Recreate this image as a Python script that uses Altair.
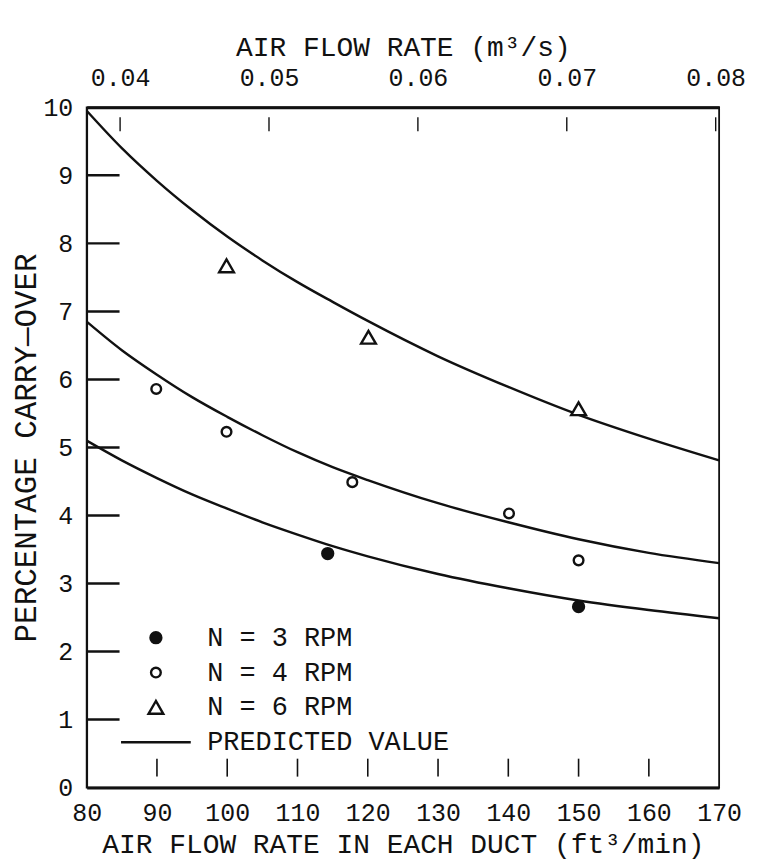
import altair as alt
import pandas as pd

FONT = "Liberation Mono"
INK = "#111111"

# ---------------- data ----------------
# measured points: air flow rate (ft^3/min) vs percentage carry-over
n3_x = [114.3, 150.0]
n3_y = [3.44, 2.66]
n4_x = [89.9, 99.9, 117.8, 140.1, 150.0]
n4_y = [5.86, 5.23, 4.49, 4.03, 3.34]
n6_x = [99.9, 120.1, 150.0]
n6_y = [7.67, 6.62, 5.57]

# predicted curves
pred_x = [80, 85, 90, 95, 100, 105, 110, 115, 120, 130, 140, 150, 160, 170]
pred_n3 = [5.10, 4.81, 4.55, 4.31, 4.10, 3.90, 3.72, 3.55, 3.40, 3.14, 2.93, 2.75, 2.61, 2.49]
pred_n4 = [6.85, 6.43, 6.07, 5.74, 5.45, 5.18, 4.93, 4.71, 4.52, 4.18, 3.90, 3.65, 3.45, 3.30]
pred_n6 = [9.95, 9.40, 8.92, 8.49, 8.10, 7.75, 7.43, 7.14, 6.86, 6.34, 5.89, 5.48, 5.13, 4.81]

series_names = ["N = 3 RPM", "N = 4 RPM", "N = 6 RPM", "PREDICTED VALUE"]

x_tick_values = [80, 90, 100, 110, 120, 130, 140, 150, 160, 170]
x_inner_ticks = [90, 100, 110, 120, 130, 140, 150, 160]
y_tick_values = [0, 1, 2, 3, 4, 5, 6, 7, 8, 9, 10]
y_inner_ticks = [1, 2, 3, 4, 5, 6, 7, 8, 9]
top_tick_labels = [0.04, 0.05, 0.06, 0.07, 0.08]
M3S_PER_CFM = 0.000471947

# ---------------- tables ----------------
pts = pd.DataFrame(
    [{"x": x, "y": y, "series": series_names[0]} for x, y in zip(n3_x, n3_y)]
    + [{"x": x, "y": y, "series": series_names[1]} for x, y in zip(n4_x, n4_y)]
    + [{"x": x, "y": y, "series": series_names[2]} for x, y in zip(n6_x, n6_y)]
)
lines = pd.DataFrame(
    [{"x": x, "y": y, "curve": "N3"} for x, y in zip(pred_x, pred_n3)]
    + [{"x": x, "y": y, "curve": "N4"} for x, y in zip(pred_x, pred_n4)]
    + [{"x": x, "y": y, "curve": "N6"} for x, y in zip(pred_x, pred_n6)]
)
yin = pd.DataFrame({"v": y_inner_ticks})
xin = pd.DataFrame({"v": x_inner_ticks})
top = pd.DataFrame({"v": [v / M3S_PER_CFM for v in top_tick_labels]})

W, H = 635, 683
LBL = 25     # tick label size
TTL = 28     # axis title size

xs = alt.Scale(domain=[80, 170], nice=False, zero=False)
ys = alt.Scale(domain=[0, 10], nice=False, zero=False)

bottom_axis = alt.Axis(
    values=x_tick_values, orient="bottom", ticks=False, tickSize=0, grid=False,
    domain=True, domainColor=INK, domainWidth=3,
    labelFont=FONT, labelFontSize=LBL, labelColor=INK, labelPadding=13,
    labelFlush=False, labelOverlap=False,
    title="AIR FLOW RATE IN EACH DUCT (ft³/min)", titleFont=FONT, titleFontSize=TTL,
    titleFontWeight="normal", titleColor=INK, titlePadding=5,
)
top_axis = alt.Axis(
    values=list(top["v"]), orient="top", ticks=False, tickSize=0, grid=False,
    domain=True, domainColor=INK, domainWidth=3,
    labelExpr=f"format(datum.value * {M3S_PER_CFM}, '.2f')",
    labelFont=FONT, labelFontSize=LBL, labelColor=INK, labelPadding=17,
    labelFlush=False, labelOverlap=False,
    title="AIR FLOW RATE (m³/s)", titleFont=FONT, titleFontSize=TTL,
    titleFontWeight="normal", titleColor=INK, titlePadding=4,
)
left_axis = alt.Axis(
    values=y_tick_values, orient="left", ticks=False, tickSize=0, grid=False,
    domain=True, domainColor=INK, domainWidth=1.8,
    labelFont=FONT, labelFontSize=LBL, labelColor=INK, labelPadding=14,
    labelFlush=False, labelOverlap=False,
    title="PERCENTAGE CARRY—OVER", titleFont=FONT, titleFontSize=31,
    titleFontWeight="normal", titleColor=INK, titlePadding=0,
)

legend = alt.Legend(
    orient="none", legendX=56, legendY=519, title=None,
    labelFont=FONT, labelFontSize=27, labelColor=INK, labelOffset=38,
    labelLimit=600,
    symbolStrokeColor=INK, symbolStrokeWidth=2.4, symbolOpacity=1,
    rowPadding=7, padding=0,
)

curve_layer = alt.Chart(lines).mark_line(
    interpolate="monotone", color=INK, strokeWidth=2.4
).encode(
    x=alt.X("x:Q", scale=xs, axis=bottom_axis),
    y=alt.Y("y:Q", scale=ys, axis=left_axis),
    detail="curve:N",
)

point_layer = alt.Chart(pts).mark_point(
    filled=True, strokeWidth=2.4, opacity=1
).encode(
    x=alt.X("x:Q", scale=xs, axis=None),
    y=alt.Y("y:Q", scale=ys, axis=None),
    shape=alt.Shape(
        "series:N",
        scale=alt.Scale(domain=series_names,
                        range=["circle", "circle", "triangle-up", "M-7,0H7"]),
        legend=legend,
    ),
    fill=alt.Fill(
        "series:N",
        scale=alt.Scale(domain=series_names, range=[INK, "white", "white", INK]),
        legend=legend,
    ),
    stroke=alt.Stroke(
        "series:N",
        scale=alt.Scale(domain=series_names, range=[INK, INK, INK, INK]),
        legend=legend,
    ),
    size=alt.Size(
        "series:N",
        scale=alt.Scale(type="ordinal", domain=series_names,
                        range=[120, 95, 220, 100]),
        legend=legend,
    ),
)

y_tick_layer = alt.Chart(yin).mark_rule(color=INK, strokeWidth=2.5).encode(
    y=alt.Y("v:Q", scale=ys, axis=None),
    x=alt.value(0),
    x2=alt.value(33),
)

x_tick_layer = alt.Chart(xin).mark_rule(color=INK, strokeWidth=1.6).encode(
    x=alt.X("v:Q", scale=xs, axis=None),
    y=alt.value(H - 29),
    y2=alt.value(H - 11),
)

top_tick_layer = alt.Chart(top).mark_rule(color=INK, strokeWidth=1.4).encode(
    x=alt.X("v:Q", scale=xs, axis=top_axis),
    y=alt.value(10),
    y2=alt.value(24),
)

chart = (
    alt.layer(curve_layer, y_tick_layer, x_tick_layer, top_tick_layer, point_layer)
    .resolve_axis(x="independent", y="independent")
    .properties(
        width=W, height=H,
        autosize=alt.AutoSizeParams(type="none"),
        padding={"left": 79, "top": 98, "right": 30, "bottom": 73},
        background="white",
    )
    .configure_view(stroke=INK, strokeWidth=1.8)
)

chart.save("out.html", embed_options={"renderer": "svg", "actions": False})
